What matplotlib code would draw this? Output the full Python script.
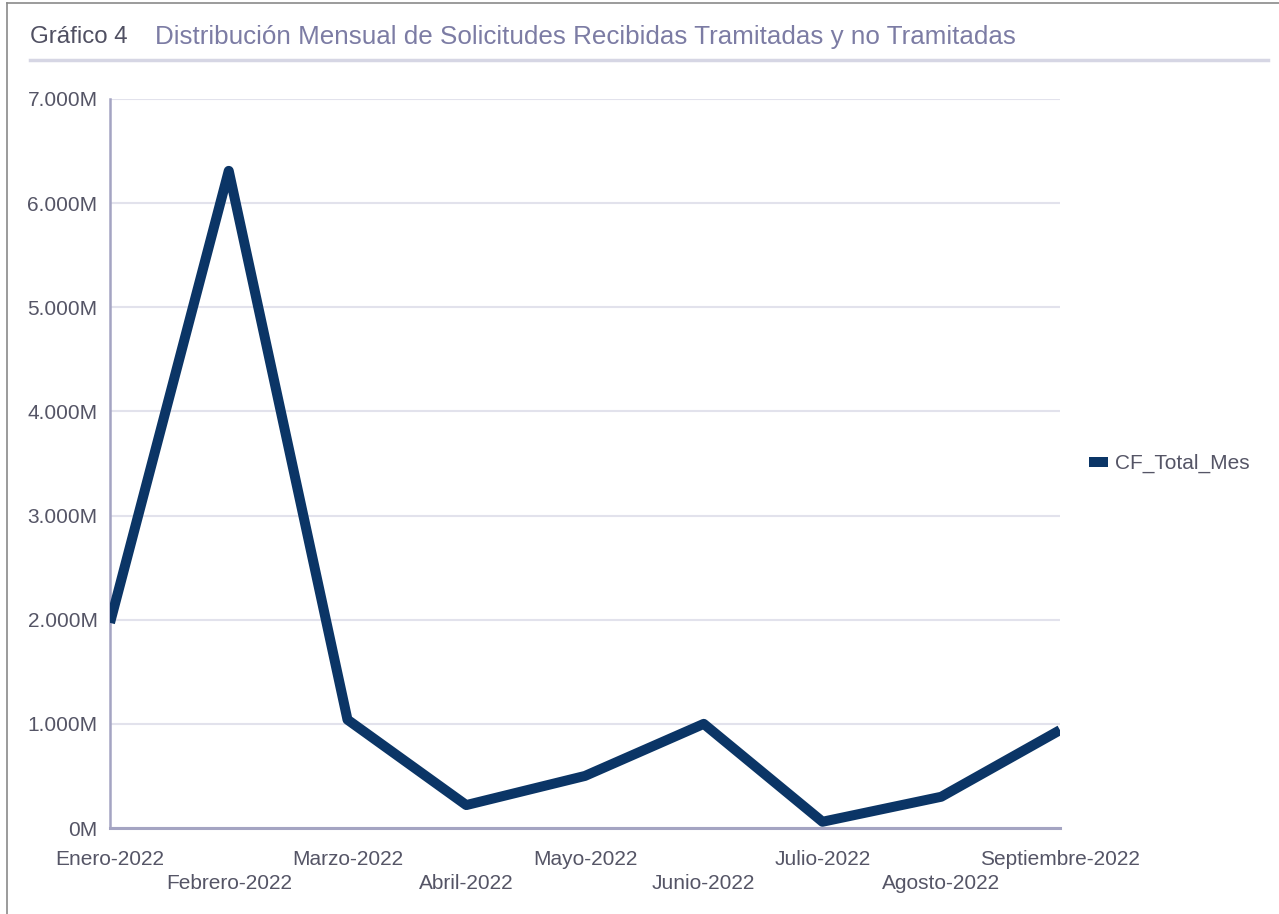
import matplotlib
matplotlib.use("Agg")
import matplotlib.pyplot as plt
from matplotlib.lines import Line2D
from matplotlib.ticker import FuncFormatter

# Data (values shown as thousands of "M", as on the chart's axis)
months = ["Enero-2022", "Febrero-2022", "Marzo-2022", "Abril-2022", "Mayo-2022",
          "Junio-2022", "Julio-2022", "Agosto-2022", "Septiembre-2022"]
cf_total_mes = [1970, 6310, 1040, 220, 500, 1000, 60, 300, 940]
y_ticks = [0, 1000, 2000, 3000, 4000, 5000, 6000, 7000]

line_color = "#0b3566"
text_color = "#555566"
axis_color = "#a4a4c2"
grid_color = "#e2e2ec"

plt.rcParams["font.family"] = ["Liberation Sans", "DejaVu Sans"]

fig = plt.figure(figsize=(12.79, 9.14), dpi=100)
W, H = 1279, 914
ax = fig.add_axes([110 / W, 1 - 828 / H, 950 / W, 729 / H])

x = list(range(len(months)))
ax.plot(x, cf_total_mes, color=line_color, linewidth=7.2,
        solid_joinstyle="round", solid_capstyle="butt", label="CF_Total_Mes", zorder=3)

ax.set_xlim(0, len(months) - 1)
ax.set_ylim(0, 7000)
ax.set_yticks(y_ticks)
ax.yaxis.set_major_formatter(FuncFormatter(lambda v, p: f"{v:,.0f}".replace(",", ".") + "M"))
ax.set_xticks(x)
ax.set_xticklabels([m if i % 2 == 0 else "\n" + m for i, m in enumerate(months)],
                   linespacing=1.3)

ax.grid(axis="y", color=grid_color, linewidth=1.5, zorder=0)
ax.tick_params(axis="both", length=0, labelsize=15, colors=text_color)
ax.tick_params(axis="x", pad=16)
ax.tick_params(axis="y", pad=9)
for side in ["top", "right"]:
    ax.spines[side].set_visible(False)
ax.spines["left"].set_color(axis_color)
ax.spines["left"].set_linewidth(1.8)
ax.spines["bottom"].set_color(axis_color)
ax.spines["bottom"].set_linewidth(2.2)

leg = ax.legend(loc="center left", bbox_to_anchor=(1.03, 0.5), frameon=False,
                fontsize=15, handlelength=0.95, handletextpad=0.3,
                borderpad=0, borderaxespad=0)
for t in leg.get_texts():
    t.set_color(text_color)

# title
fig.text(30 / W, 1 - 37 / H, "Gráfico 4", fontsize=17.3, color="#505062", va="center", ha="left")
fig.text(155 / W, 1 - 37 / H, "Distribución Mensual de Solicitudes Recibidas Tramitadas y no Tramitadas",
         fontsize=18.7, color="#7c7ca4", va="center", ha="left")
fig.add_artist(Line2D([30 / W, 1268 / W], [1 - 60 / H, 1 - 60 / H], color="#d6d6e4", linewidth=2.5))

# outer frame (top and left edges)
fig.add_artist(Line2D([7 / W, 1], [1 - 3 / H, 1 - 3 / H], color="#8a8a8a", linewidth=1.2))
fig.add_artist(Line2D([7 / W, 7 / W], [0, 1 - 3 / H], color="#8a8a8a", linewidth=1.2))

fig.savefig("out.png", dpi=100)
